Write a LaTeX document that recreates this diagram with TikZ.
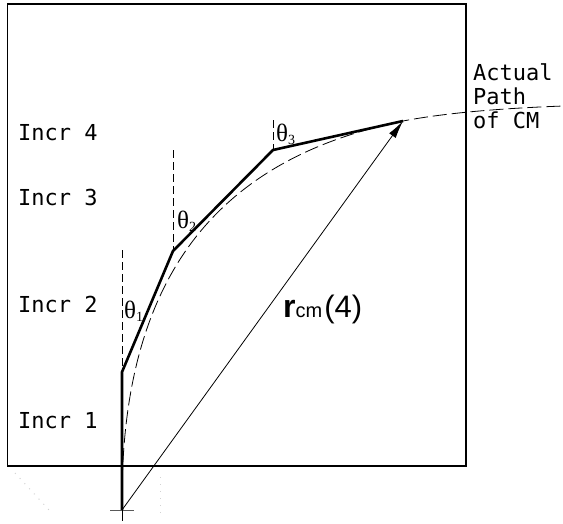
\documentclass[tikz,border=0pt]{standalone}
\usepackage{fontspec}
\newfontfamily\cadfont{DejaVu Sans Mono}
\newfontfamily\arialfont{Liberation Sans}
\newfontfamily\timesfont{Liberation Serif}
\usetikzlibrary{arrows.meta}
\newcommand{\thsub}[1]{\raisebox{-0.25ex}{\fontsize{14}{14}\selectfont #1}}
\begin{document}
\begin{tikzpicture}[x=1pt,y=-1pt,
  cadtext/.style={anchor=base west,inner sep=0pt,font=\cadfont\fontsize{22}{24}\selectfont},
  thetalabel/.style={inner sep=0pt,font=\timesfont\fontsize{25}{25}\selectfont},
  vguide/.style={dash pattern=on 8pt off 4pt,line width=0.8pt},
  pathline/.style={line width=2.6pt,line join=miter},
  actual/.style={dash pattern=on 14pt off 5pt,line width=0.8pt},
  faint/.style={gray!35,line width=1pt,dash pattern=on 1pt off 6pt}]
\useasboundingbox (0,0) rectangle (563,523);
% frame
\draw[line width=1.2pt] (7.5,4) rectangle (466,466);
% key points
\coordinate (O) at (122,510);
\coordinate (P1) at (122,372);
\coordinate (P2) at (173,251);
\coordinate (P3) at (273,150);
\coordinate (P4) at (403,121);
\coordinate (V1) at (122,250);
\coordinate (V2) at (173,150);
\coordinate (V3) at (273,120);
\coordinate (Cl) at (110,510);
\coordinate (Cr) at (134,510);
\coordinate (Cb) at (122,521);
\coordinate (A) at (122,500);
\coordinate (E) at (563,106);
% faint dotted artifacts
\draw[faint] (15,473) -- (50,511);
\draw[faint] (160,477) -- (160,513);
% vertical guides
\draw[vguide] (V1) -- (P1);
\draw[vguide] (V2) -- (P2);
\draw[vguide] (V3) -- (P3);
% actual path of CM
\draw[actual] (A) .. controls (122,270) and (223,158) .. (P4)
  .. controls (450,112) and (510,108) .. (E);
% increments
\draw[pathline] (O) -- (P1) -- (P2) -- (P3) -- (P4);
% origin cross
\draw[line width=1pt,gray!70!black] (Cl) -- (Cr);
\draw[line width=1pt] (O) -- (Cb);
% r_cm vector
\draw[line width=0.8pt,-{Latex[length=18pt,width=8pt]}] (O) -- (P4);
% theta labels
\node[thetalabel,anchor=west] (t1) at (124,311) {θ\thsub{1}};
\node[thetalabel,anchor=west] (t2) at (177,221) {θ\thsub{2}};
\node[thetalabel,anchor=west] (t3) at (276,134) {θ\thsub{3}};
% increment labels
\node[cadtext] (i4) at (18,140) {Incr 4};
\node[cadtext] (i3) at (18,205) {Incr 3};
\node[cadtext] (i2) at (18,312) {Incr 2};
\node[cadtext] (i1) at (18,428) {Incr 1};
% actual path label
\node[cadtext] (a1) at (473,80) {Actual};
\node[cadtext] (a2) at (473,104) {Path};
\node[cadtext] (a3) at (473,128) {of CM};
% r_cm(4)
\node[anchor=base west,inner sep=0pt] (rcm) at (283,317)
  {\arialfont{\fontsize{32}{32}\selectfont\bfseries r}{\fontsize{20}{20}\selectfont cm}\kern2pt{\fontsize{31}{31}\selectfont(4)}};
\end{tikzpicture}
\end{document}
